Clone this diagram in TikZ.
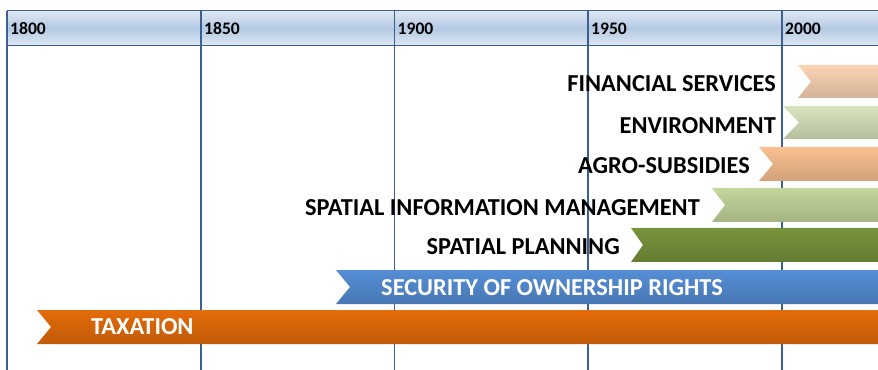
\documentclass[tikz,border=0pt]{standalone}
\usepackage{fontspec}
\setmainfont{Carlito}
\usetikzlibrary{positioning}

\definecolor{gitterblau}{HTML}{3B5F91}
\definecolor{kopfhell}{HTML}{DFE8F3}
\definecolor{kopfmitte}{HTML}{B4C9E3}
\definecolor{finanz}{HTML}{FBD4B4}
\definecolor{umwelt}{HTML}{D7E4BD}
\definecolor{agrar}{HTML}{FAC090}
\definecolor{geoinfo}{HTML}{C3D69B}
\definecolor{planung}{HTML}{77933C}
\definecolor{eigentum}{HTML}{558ED5}
\definecolor{steuer}{HTML}{E46C0A}

\begin{document}
\begin{tikzpicture}[x=0.3mm,y=-0.3mm]

		\tikzset{%
			gitter/.style   = {draw=gitterblau, line width=1.3pt},
			kopf/.style     = {top color=kopfhell, bottom color=kopfhell, middle color=kopfmitte},
			jahr/.style     = {anchor=base west, inner sep=0, font=\fontsize{15}{17}\selectfont\bfseries},
			balken/.style   = {top color=#1, middle color=#1, bottom color=#1!84!black},
			titel/.style    = {anchor=east, inner sep=0, font=\fontsize{20.8}{23}\selectfont\bfseries}, % schwarze Beschriftung
			titelw/.style   = {anchor=west, inner sep=0, text=white, font=\fontsize{20.8}{23}\selectfont\bfseries} % weisse Beschriftung
		}

		\useasboundingbox (0,0) rectangle (878,370);
		\clip (0,0) rectangle (878,370);

		% Kopfzeile
		\shade[kopf] (7,10.7) rectangle (900,45.7);
		\draw[gitter] (7,10.7) -- (900,10.7);
		\draw[gitter] (7,45.7) -- (900,45.7);
		\draw[gitter] (7,10.7) -- (7,380);
		\draw[gitter] (201,10.7) -- (201,380);
		\draw[gitter] (394.5,10.7) -- (394.5,380);
		\draw[gitter] (588,10.7) -- (588,380);
		\draw[gitter] (782,10.7) -- (782,380);

		\node[jahr] (j1800) at (10,35) {1800};
		\node[jahr] (j1850) at (204,35) {1850};
		\node[jahr] (j1900) at (397.5,35) {1900};
		\node[jahr] (j1950) at (591,35) {1950};
		\node[jahr] (j2000) at (785,35) {2000};

		% Balken
		\shade[balken=finanz] (798,65) -- (900,65) -- (900,98) -- (798,98) -- (811,81.5) -- cycle;
		\shade[balken=umwelt] (783,106) -- (900,106) -- (900,139) -- (783,139) -- (799,122.5) -- cycle;
		\shade[balken=agrar] (759,147) -- (900,147) -- (900,181) -- (759,181) -- (773,164) -- cycle;
		\shade[balken=geoinfo] (712,188) -- (900,188) -- (900,222) -- (712,222) -- (725,205) -- cycle;
		\shade[balken=planung] (631,228) -- (900,228) -- (900,262) -- (631,262) -- (643,245) -- cycle;
		\shade[balken=eigentum] (336,270) -- (900,270) -- (900,304) -- (336,304) -- (350,287) -- cycle;
		\shade[balken=steuer] (37,310) -- (900,310) -- (900,344) -- (37,344) -- (51,327) -- cycle;

		% Beschriftungen
		\node[titel] (finanzen) at (776,83.5) {FINANCIAL SERVICES};
		\node[titel] (umweltschutz) at (776,126) {ENVIRONMENT};
		\node[titel] (subventionen) at (750,165.5) {AGRO-SUBSIDIES};
		\node[titel] (geodaten) at (700,208) {SPATIAL INFORMATION MANAGEMENT};
		\node[titel] (raumplanung) at (620,247) {SPATIAL PLANNING};
		\node[titelw] (sicherheit) at (381,288) {SECURITY OF OWNERSHIP RIGHTS};
		\node[titelw] (steuern) at (91,327) {TAXATION};
		\end{tikzpicture}
\end{document}
